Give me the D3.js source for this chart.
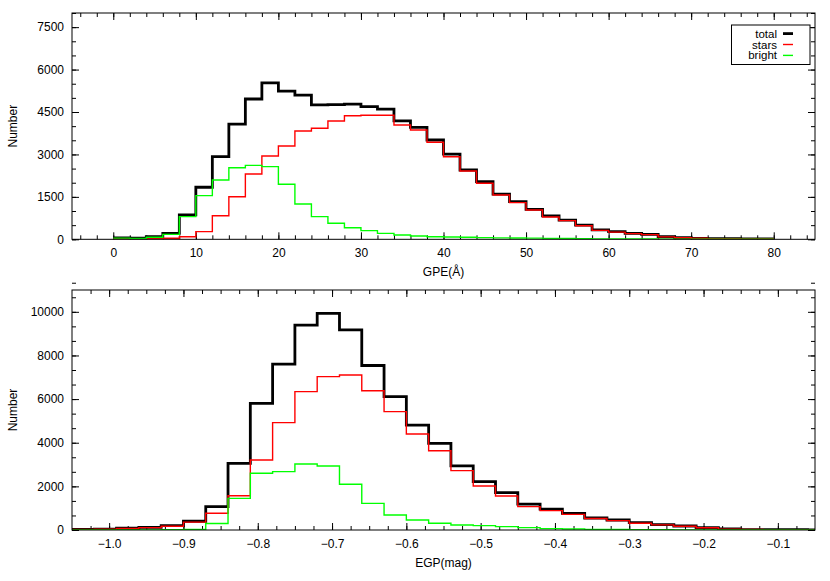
<!DOCTYPE html>
<html>
<head>
<meta charset="utf-8">
<script src="https://cdn.jsdelivr.net/npm/d3@7"></script>
<style>
html,body{margin:0;padding:0;background:#fff;}
svg{display:block;font-family:"Liberation Sans",Arial,Helvetica,sans-serif;}
</style>
</head>
<body>
<svg id="chart" width="830" height="581"></svg>
<script>
// ---------- Data ----------
// Top panel: GPE (Å), bins of width 2 starting at 0
const gpeStart = 0, gpeWidth = 2;
const gpeTotal  = [50,40,90,210,860,1840,2920,4070,4960,5530,5240,5100,4750,4760,4780,4690,4600,4190,3960,3510,3010,2450,2040,1600,1330,1060,830,680,500,330,270,210,175,90,55,35,25,20,15,10];
const gpeStars  = [10,10,20,35,90,270,835,1505,2310,2945,3300,3830,3925,4180,4370,4385,4385,4040,3865,3430,2920,2415,1980,1565,1295,1035,790,660,480,315,255,200,165,85,55,35,25,20,15,10];
const gpeBright = [40,30,70,175,800,1545,2095,2530,2615,2570,1945,1250,800,565,410,305,210,150,115,90,80,70,60,50,45,40,32,26,20,15,12,10,8,5,0,0,0,0,0,0];
const gpeXTicks = [0,10,20,30,40,50,60,70,80];
const gpeYTicks = [0,1500,3000,4500,6000,7500];

// Bottom panel: EGP (mag), bins of width 0.03 starting at -1.05
const egpStart = -1.05, egpWidth = 0.03;
const egpTotal  = [30,40,80,120,200,400,1070,3050,5800,7600,9390,9930,9170,7540,6110,4810,3970,2940,2215,1710,1190,955,764,550,458,336,250,183,107,46,20,15,12,10];
const egpStars  = [25,35,70,110,170,360,765,1570,3210,4920,6340,7030,7105,6385,5425,4400,3635,2720,2015,1560,1070,886,718,525,430,310,235,170,100,42,20,15,12,10];
const egpBright = [0,0,5,5,10,30,300,1450,2600,2675,3025,2935,2095,1220,687,458,306,229,199,153,107,61,45,30,22,18,12,8,4,0,0,0,0,0];
const egpXTicks = [-1.0,-0.9,-0.8,-0.7,-0.6,-0.5,-0.4,-0.3,-0.2,-0.1];
const egpYTicks = [0,2000,4000,6000,8000,10000];

const seriesNames = ["total","stars","bright"];
const seriesColors = ["#000000","#ff0000","#00ff00"];
const seriesWidths = [2.8,1.4,1.4];

// ---------- Drawing ----------
const svg = d3.select("#chart");
const X0 = 72, X1 = 815;

function range(a, b, step) {
  const out = [];
  const n = Math.round((b - a) / step);
  for (let i = 0; i <= n; i++) out.push(+(a + i * step).toFixed(6));
  return out;
}

function panel(opts) {
  const {x, y, yTop, yBot, xMajor, xMinor, yMajor, yMinor, fmtX, fmtY, series, start, width, xLabel, id} = opts;
  const g = svg.append("g");

  svg.append("defs").append("clipPath").attr("id", id)
    .append("rect").attr("x", X0).attr("y", yTop).attr("width", X1 - X0).attr("height", yBot - yTop);

  const clean = sel => sel.call(s => s.select(".domain").remove());
  const style = sel => sel.attr("color", "#000").attr("font-size", 12).attr("font-family", "Liberation Sans, Arial, sans-serif");

  // bottom axis
  g.append("g").attr("transform", `translate(0,${yBot})`)
    .call(d3.axisBottom(x).tickValues(xMinor).tickSize(-4).tickFormat(""))
    .call(clean).call(style);
  g.append("g").attr("transform", `translate(0,${yBot})`)
    .call(d3.axisBottom(x).tickValues(xMajor).tickSize(-7).tickPadding(9.5).tickFormat(fmtX))
    .call(clean).call(style);
  // top axis (mirror)
  g.append("g").attr("transform", `translate(0,${yTop})`)
    .call(d3.axisTop(x).tickValues(xMinor).tickSize(-4).tickFormat(""))
    .call(clean).call(style);
  g.append("g").attr("transform", `translate(0,${yTop})`)
    .call(d3.axisTop(x).tickValues(xMajor).tickSize(-7).tickFormat(""))
    .call(clean).call(style);
  // left axis
  g.append("g").attr("transform", `translate(${X0},0)`)
    .call(d3.axisLeft(y).tickValues(yMinor).tickSize(-4).tickFormat(""))
    .call(clean).call(style);
  g.append("g").attr("transform", `translate(${X0},0)`)
    .call(d3.axisLeft(y).tickValues(yMajor).tickSize(-7).tickPadding(8).tickFormat(fmtY))
    .call(clean).call(style);
  // right axis (mirror)
  g.append("g").attr("transform", `translate(${X1},0)`)
    .call(d3.axisRight(y).tickValues(yMinor).tickSize(-4).tickFormat(""))
    .call(clean).call(style);
  g.append("g").attr("transform", `translate(${X1},0)`)
    .call(d3.axisRight(y).tickValues(yMajor).tickSize(-7).tickFormat(""))
    .call(clean).call(style);

  // histograms
  const line = d3.line().curve(d3.curveStepAfter);
  const hg = g.append("g").attr("clip-path", `url(#${id})`);
  series.forEach((vals, si) => {
    const pts = vals.map((v, i) => [x(start + i * width), y(v)]);
    pts.push([x(start + vals.length * width), y(vals[vals.length - 1])]);
    hg.append("path").attr("d", line(pts))
      .attr("fill", "none")
      .attr("stroke", seriesColors[si])
      .attr("stroke-width", seriesWidths[si])
      .attr("stroke-linejoin", "miter");
  });

  // frame
  g.append("rect").attr("x", X0).attr("y", yTop).attr("width", X1 - X0).attr("height", yBot - yTop)
    .attr("fill", "none").attr("stroke", "#000").attr("stroke-width", 1);

  // labels
  g.append("text").attr("x", (X0 + X1) / 2).attr("y", yBot + 36.5)
    .attr("text-anchor", "middle").attr("font-size", 12).text(xLabel);
  g.append("text").attr("transform", `translate(17,${(yTop + yBot) / 2}) rotate(-90)`)
    .attr("text-anchor", "middle").attr("font-size", 12).text("Number");
  return g;
}

// Top panel
const xTop = d3.scaleLinear().domain([-5, 85]).range([X0, X1]);
const yTopS = d3.scaleLinear().domain([0, 8000]).range([239.3, 13]);
panel({
  id: "clipTop", x: xTop, y: yTopS, yTop: 13, yBot: 239.3,
  xMajor: gpeXTicks, xMinor: range(-4, 84, 2),
  yMajor: gpeYTicks, yMinor: range(0, 8000, 500),
  fmtX: d3.format("d"), fmtY: d3.format("d"),
  series: [gpeTotal, gpeStars, gpeBright], start: gpeStart, width: gpeWidth,
  xLabel: "GPE(Å)"
});

// Legend
const leg = svg.append("g");
leg.append("rect").attr("x", 731.5).attr("y", 25).attr("width", 78.5).attr("height", 39.5)
  .attr("fill", "#fff").attr("stroke", "#000").attr("stroke-width", 1);
seriesNames.forEach((n, i) => {
  const yy = 33.6 + i * 10.9;
  leg.append("text").attr("x", 777).attr("y", yy).attr("dy", "0.35em")
    .attr("text-anchor", "end").attr("font-size", 11.5).text(n);
  leg.append("line").attr("x1", 783).attr("x2", 793).attr("y1", yy).attr("y2", yy)
    .attr("stroke", seriesColors[i]).attr("stroke-width", seriesWidths[i]);
});

// Bottom panel
const xBot = d3.scaleLinear().domain([-1.05, -0.05]).range([X0, X1]);
const yBotS = d3.scaleLinear().domain([0, 11000]).range([530, 290]);
panel({
  id: "clipBot", x: xBot, y: yBotS, yTop: 290, yBot: 530,
  xMajor: egpXTicks, xMinor: range(-1.025, -0.075, 0.025),
  yMajor: egpYTicks, yMinor: range(0, 11000, 2000 / 3),
  fmtX: d3.format(".1f"), fmtY: d3.format("d"),
  series: [egpTotal, egpStars, egpBright], start: egpStart, width: egpWidth,
  xLabel: "EGP(mag)"
});
</script>
</body>
</html>
